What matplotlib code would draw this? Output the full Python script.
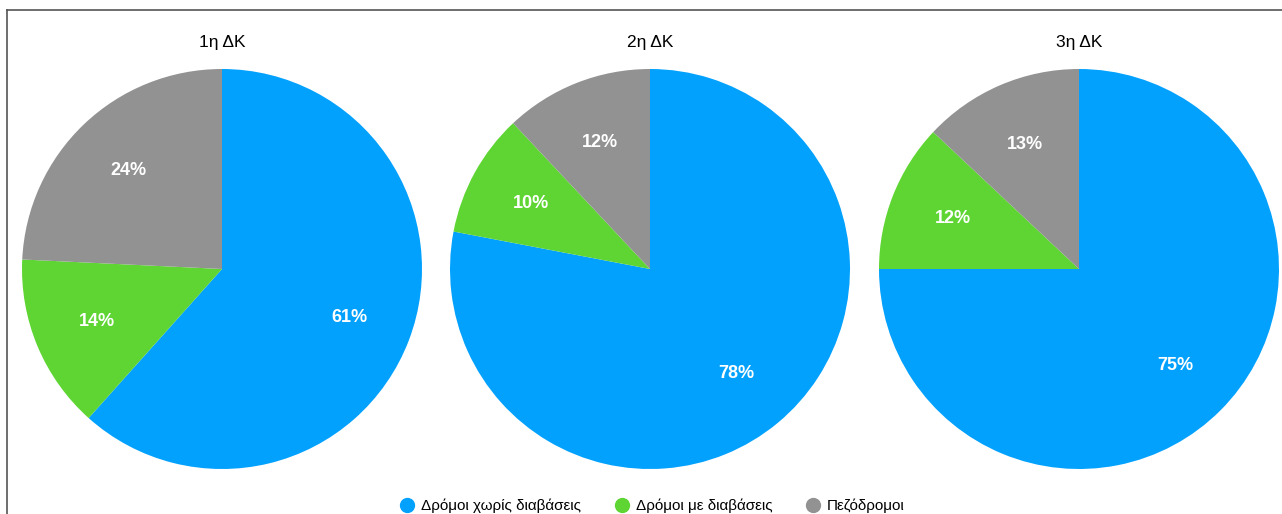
import numpy as np
import matplotlib.pyplot as plt
from matplotlib.lines import Line2D

plt.rcParams['font.family'] = ['Liberation Sans', 'DejaVu Sans']

titles = ['1η ΔΚ', '2η ΔΚ', '3η ΔΚ']
categories = ['Δρόμοι χωρίς διαβάσεις', 'Δρόμοι με διαβάσεις', 'Πεζόδρομοι']
values = [
    [61, 14, 24],
    [78, 10, 12],
    [75, 12, 13],
]
colors = ['#03A1FE', '#5ED533', '#929292']

W, H = 1282, 514
fig = plt.figure(figsize=(W / 100, H / 100), dpi=100)

centers = [222, 650, 1079]
r = 200
cy = 269
for cx, title, vals in zip(centers, titles, values):
    ax = fig.add_axes([(cx - r) / W, (H - cy - r) / H, 2 * r / W, 2 * r / H])
    ax.pie(vals, colors=colors, startangle=90, counterclock=False, radius=1)
    # percentage labels in the middle of each wedge
    tot = sum(vals)
    start = 90.0
    for v in vals:
        ang = start - v / tot * 180
        start -= v / tot * 360
        x = 0.68 * np.cos(np.radians(ang))
        y = 0.68 * np.sin(np.radians(ang))
        ax.text(x, y, f'{v}%', ha='center', va='center', color='white',
                fontsize=13, fontweight='bold')
    ax.set_xlim(-1, 1)
    ax.set_ylim(-1, 1)
    ax.set_aspect('equal')
    ax.axis('off')
    fig.text(cx / W, 1 - 42 / H, title, ha='center', va='center', fontsize=12.5)

# frame lines
fig.add_artist(Line2D([7 / W, 7 / W], [0, 1 - 10 / H], color='#555555', lw=1.2,
                      transform=fig.transFigure))
fig.add_artist(Line2D([7 / W, 1], [1 - 10 / H, 1 - 10 / H], color='#555555', lw=1.2,
                      transform=fig.transFigure))

handles = [Line2D([], [], marker='o', linestyle='none', markersize=10,
                  markerfacecolor=c, markeredgecolor=c) for c in colors]
fig.legend(handles, categories, loc='center', bbox_to_anchor=(652 / W, 1 - 506 / H),
           ncol=3, frameon=False, fontsize=11, handletextpad=0.4,
           columnspacing=2.2, handlelength=1.0)

fig.savefig('out.png', dpi=100)
